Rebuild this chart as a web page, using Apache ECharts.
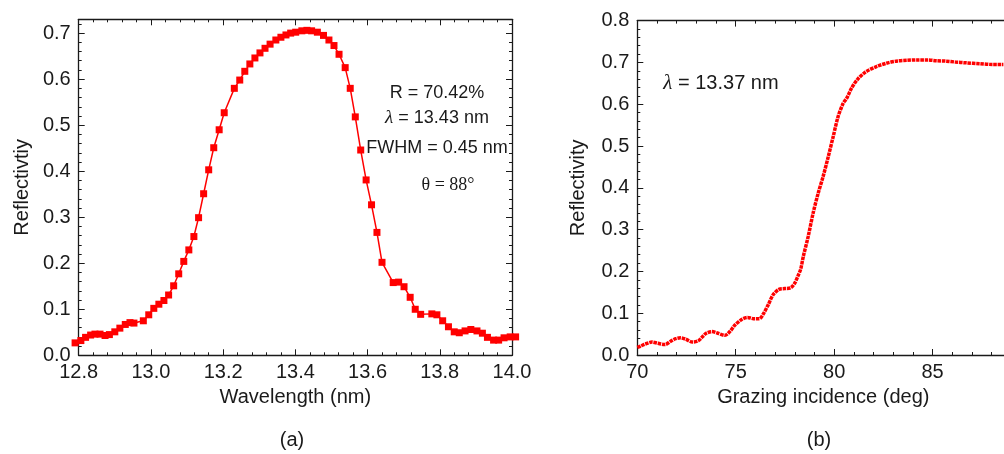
<!DOCTYPE html>
<html>
<head>
<meta charset="utf-8">
<script src="https://cdn.jsdelivr.net/npm/echarts@6/dist/echarts.min.js"></script>
<style>
  html, body { margin: 0; padding: 0; background: #fff; }
  #chart { width: 1004px; height: 454px; }
</style>
</head>
<body>
<div id="chart"></div>
<script>
// (a) reflectivity vs wavelength
var wavelength = [12.79, 12.806, 12.819, 12.833, 12.845, 12.859, 12.873, 12.885, 12.9, 12.914,
    12.929, 12.942, 12.953, 12.979, 12.994, 13.008, 13.022, 13.036, 13.049, 13.063,
    13.077, 13.091, 13.105, 13.119, 13.132, 13.146, 13.16, 13.174, 13.189, 13.203,
    13.231, 13.246, 13.26, 13.274, 13.288, 13.302, 13.316, 13.33, 13.346, 13.36,
    13.374, 13.387, 13.401, 13.418, 13.432, 13.445, 13.461, 13.478, 13.493, 13.507,
    13.521, 13.538, 13.552, 13.566, 13.581, 13.596, 13.611, 13.626, 13.64, 13.671,
    13.686, 13.701, 13.718, 13.732, 13.747, 13.778, 13.792, 13.808, 13.824, 13.84,
    13.854, 13.87, 13.886, 13.903, 13.918, 13.932, 13.949, 13.963, 13.978, 13.995, 14.01];
var reflA = [0.027, 0.032, 0.039, 0.044, 0.046, 0.046, 0.043, 0.045, 0.051, 0.059,
    0.067, 0.071, 0.070, 0.075, 0.088, 0.102, 0.111, 0.119, 0.131, 0.151,
    0.177, 0.204, 0.229, 0.258, 0.299, 0.351, 0.403, 0.451, 0.490, 0.527,
    0.580, 0.598, 0.617, 0.633, 0.646, 0.657, 0.667, 0.676, 0.685, 0.691,
    0.696, 0.700, 0.702, 0.705, 0.706, 0.705, 0.702, 0.695, 0.685, 0.673,
    0.654, 0.625, 0.580, 0.518, 0.446, 0.381, 0.327, 0.267, 0.202, 0.158,
    0.159, 0.149, 0.126, 0.100, 0.089, 0.090, 0.088, 0.075, 0.062, 0.051,
    0.049, 0.053, 0.056, 0.053, 0.048, 0.039, 0.033, 0.033, 0.038, 0.040, 0.040];

// (b) reflectivity vs grazing incidence angle
var angle = [70.0, 70.2, 70.4, 70.75, 71.05, 71.4, 71.7, 71.95, 72.2, 72.45,
    72.8, 73.1, 73.3, 73.5, 73.8, 74.1, 74.45, 74.7, 74.95, 75.3,
    75.6, 75.9, 76.2, 76.4, 76.65, 76.9, 77.2, 77.5, 77.8, 78.0,
    78.17, 78.3, 78.43, 78.68, 78.93, 79.19, 79.44, 79.7, 79.95, 80.2,
    80.46, 80.65, 80.88, 81.2, 81.6, 82.15, 82.65, 83.15, 83.7, 84.2,
    84.7, 85.2, 85.7, 86.15, 86.7, 87.4, 88.05, 88.6];
var reflB = [0.018, 0.022, 0.026, 0.031, 0.028, 0.025, 0.033, 0.039, 0.041, 0.038,
    0.031, 0.034, 0.043, 0.052, 0.056, 0.052, 0.047, 0.056, 0.071, 0.085,
    0.090, 0.087, 0.087, 0.098, 0.120, 0.144, 0.157, 0.159, 0.161, 0.172,
    0.190, 0.205, 0.235, 0.283, 0.339, 0.387, 0.427, 0.474, 0.522, 0.570,
    0.602, 0.615, 0.638, 0.660, 0.677, 0.690, 0.698, 0.703, 0.705, 0.706,
    0.706, 0.704, 0.703, 0.701, 0.699, 0.697, 0.695, 0.695];

var ink = '#1a1a1a';
var sans = '"Liberation Sans", Arial, Helvetica, sans-serif';
var serif = '"Liberation Serif", "Times New Roman", serif';

function pairs(xs, ys) {
    return xs.map(function (x, i) { return [x, ys[i]]; });
}

// one axis layer: either major ticks (with line / labels) or minor ticks only
function axis(grid, pos, min, max, step, len, opts) {
    opts = opts || {};
    var a = {
        type: 'value',
        gridIndex: grid,
        position: pos,
        min: min,
        max: max,
        interval: step,
        axisLine: { show: !!opts.line, onZero: false, lineStyle: { color: ink, width: 1.3 } },
        axisTick: { show: true, inside: true, length: len, lineStyle: { color: ink, width: 1 } },
        axisLabel: {
            show: !!opts.labels,
            showMaxLabel: !opts.hideMax,
            color: ink,
            fontFamily: sans,
            fontSize: 20,
            margin: opts.margin || 8,
            formatter: opts.fmt
        },
        splitLine: { show: false }
    };
    if (opts.name) {
        a.name = opts.name;
        a.nameLocation = 'middle';
        a.nameGap = opts.nameGap;
        a.nameTextStyle = { color: ink, fontFamily: sans, fontSize: 20 };
    }
    return a;
}

var fmt1 = function (v) { return v.toFixed(1); };
var fmt0 = function (v) { return v.toFixed(0); };

var chartDom = document.getElementById('chart');
var myChart = echarts.init(chartDom);
var option;

option = {
    animation: false,
    backgroundColor: '#fff',
    grid: [
        { left: 78.7, top: 19.3, width: 433.3, height: 336, outerBoundsMode: 'none' },
        { left: 637.3, top: 20.6, width: 372, height: 334.4, outerBoundsMode: 'none' }
    ],
    xAxis: [
        axis(0, 'bottom', 12.8, 14.0, 0.2, 6, { line: true, labels: true, fmt: fmt1, margin: 7, name: 'Wavelength (nm)', nameGap: 32 }),
        axis(0, 'bottom', 12.8, 14.0, 0.04, 3),
        axis(0, 'top', 12.8, 14.0, 0.2, 6, { line: true }),
        axis(0, 'top', 12.8, 14.0, 0.04, 3),
        axis(1, 'bottom', 70, 88.9, 5, 6, { line: true, labels: true, hideMax: true, fmt: fmt0, margin: 7, name: 'Grazing incidence (deg)', nameGap: 32 }),
        axis(1, 'bottom', 70, 88.9, 1, 3),
        axis(1, 'top', 70, 88.9, 5, 6, { line: true }),
        axis(1, 'top', 70, 88.9, 1, 3)
    ],
    yAxis: [
        axis(0, 'left', 0, 0.73, 0.1, 6, { line: true, labels: true, hideMax: true, fmt: fmt1, name: 'Reflectivtiy', nameGap: 46 }),
        axis(0, 'left', 0, 0.73, 0.02, 3),
        axis(0, 'right', 0, 0.73, 0.1, 6, { line: true }),
        axis(0, 'right', 0, 0.73, 0.02, 3),
        axis(1, 'left', 0, 0.8, 0.1, 6, { line: true, labels: true, fmt: fmt1, name: 'Reflectivity', nameGap: 49 }),
        axis(1, 'left', 0, 0.8, 0.02, 3)
    ],
    series: [
        {
            name: 'a',
            type: 'line',
            xAxisIndex: 0,
            yAxisIndex: 0,
            clip: false,
            data: pairs(wavelength, reflA),
            symbol: 'rect',
            symbolSize: 7,
            itemStyle: { color: '#ff0000' },
            lineStyle: { color: '#ff0000', width: 1.5 }
        },
        {
            name: 'b',
            type: 'line',
            xAxisIndex: 4,
            yAxisIndex: 4,
            clip: false,
            smooth: 0.3,
            data: pairs(angle, reflB),
            showSymbol: false,
            lineStyle: { color: '#ff0000', width: 3.5, type: [3.5, 0.8] }
        }
    ],
    graphic: [
        { type: 'text', x: 437, y: 93, style: { text: 'R = 70.42%', font: '18px ' + sans, fill: ink, textAlign: 'center', textVerticalAlign: 'middle' } },
        { type: 'text', x: 437, y: 118, style: { text: '{i|λ} = 13.43 nm', font: '18px ' + sans, fill: ink, textAlign: 'center', textVerticalAlign: 'middle',
            rich: { i: { font: 'italic 19px ' + serif, fill: ink } } } },
        { type: 'text', x: 437, y: 148, style: { text: 'FWHM = 0.45 nm', font: '18px ' + sans, fill: ink, textAlign: 'center', textVerticalAlign: 'middle' } },
        { type: 'text', x: 448, y: 185, style: { text: 'θ = 88°', font: '18px ' + serif, fill: ink, textAlign: 'center', textVerticalAlign: 'middle' } },
        { type: 'text', x: 721, y: 83, style: { text: '{i|λ} = 13.37 nm', font: '20px ' + sans, fill: ink, textAlign: 'center', textVerticalAlign: 'middle',
            rich: { i: { font: 'italic 21px ' + serif, fill: ink } } } },
        { type: 'text', x: 292, y: 440, style: { text: '(a)', font: '20px ' + sans, fill: ink, textAlign: 'center', textVerticalAlign: 'middle' } },
        { type: 'text', x: 819, y: 440, style: { text: '(b)', font: '20px ' + sans, fill: ink, textAlign: 'center', textVerticalAlign: 'middle' } }
    ]
};

option && myChart.setOption(option);
</script>
</body>
</html>
